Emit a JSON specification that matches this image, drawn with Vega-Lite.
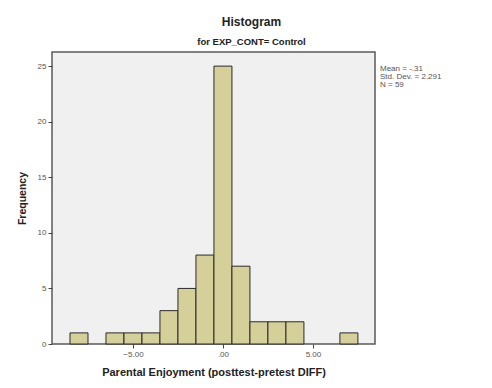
{
  "$schema": "https://vega.github.io/schema/vega-lite/v6.json",
  "width": 323,
  "height": 292,
  "autosize": "none",
  "padding": {"left": 52, "top": 52, "right": 117, "bottom": 44},
  "background": "white",
  "title": {
    "text": "Histogram",
    "subtitle": "for EXP_CONT= Control",
    "anchor": "middle",
    "dx": 38,
    "offset": 5,
    "font": "Liberation Sans",
    "fontSize": 12,
    "fontWeight": "bold",
    "color": "#222",
    "subtitleFont": "Liberation Sans",
    "subtitleFontSize": 9.5,
    "subtitleFontWeight": "bold",
    "subtitleColor": "#222",
    "subtitlePadding": 8
  },
  "config": {
    "view": {"fill": "#f0f0f0", "stroke": "#5a5a5a", "strokeWidth": 1.5},
    "axis": {
      "labelFont": "Liberation Sans",
      "labelFontSize": 8,
      "labelColor": "#555",
      "titleFont": "Liberation Sans",
      "titleFontWeight": "bold",
      "titleColor": "#222",
      "tickColor": "#444",
      "tickSize": 4,
      "domain": false,
      "grid": false
    }
  },
  "layer": [
    {
      "data": {
        "values": [
          {"bin_start": -8.5, "bin_end": -7.5, "count": 1},
          {"bin_start": -6.5, "bin_end": -5.5, "count": 1},
          {"bin_start": -5.5, "bin_end": -4.5, "count": 1},
          {"bin_start": -4.5, "bin_end": -3.5, "count": 1},
          {"bin_start": -3.5, "bin_end": -2.5, "count": 3},
          {"bin_start": -2.5, "bin_end": -1.5, "count": 5},
          {"bin_start": -1.5, "bin_end": -0.5, "count": 8},
          {"bin_start": -0.5, "bin_end": 0.5, "count": 25},
          {"bin_start": 0.5, "bin_end": 1.5, "count": 7},
          {"bin_start": 1.5, "bin_end": 2.5, "count": 2},
          {"bin_start": 2.5, "bin_end": 3.5, "count": 2},
          {"bin_start": 3.5, "bin_end": 4.5, "count": 2},
          {"bin_start": 6.5, "bin_end": 7.5, "count": 1}
        ]
      },
      "mark": {"type": "rect", "fill": "#d5d09a", "stroke": "#2a2a2a", "strokeWidth": 1},
      "encoding": {
        "x": {
          "field": "bin_start",
          "type": "quantitative",
          "scale": {"domain": [-9.5, 8.45], "nice": false, "zero": false},
          "axis": {
            "values": [-5, 0, 5],
            "labelExpr": "datum.value == 0 ? '.00' : format(datum.value, '.2f')",
            "title": "Parental Enjoyment (posttest-pretest DIFF)",
            "titleFontSize": 11,
            "titlePadding": 8
          }
        },
        "x2": {"field": "bin_end"},
        "y": {
          "field": "count",
          "type": "quantitative",
          "scale": {"domain": [0, 26.27], "nice": false},
          "axis": {
            "values": [0, 5, 10, 15, 20, 25],
            "title": "Frequency",
            "titleFontSize": 10.5,
            "titlePadding": 10,
            "labelPadding": 2
          }
        },
        "y2": {"datum": 0}
      }
    },
    {
      "data": {
        "values": [
          {"stats": "Mean = -.31\nStd. Dev. = 2.291\nN = 59"}
        ]
      },
      "mark": {
        "type": "text",
        "align": "left",
        "baseline": "top",
        "font": "Liberation Sans",
        "fontSize": 8,
        "lineHeight": 8,
        "lineBreak": "\n",
        "dx": 5,
        "color": "#555",
        "clip": false
      },
      "encoding": {
        "text": {"field": "stats", "type": "nominal"},
        "x": {"datum": 8.45, "type": "quantitative"},
        "y": {"datum": 25.1, "type": "quantitative"}
      }
    }
  ]
}
